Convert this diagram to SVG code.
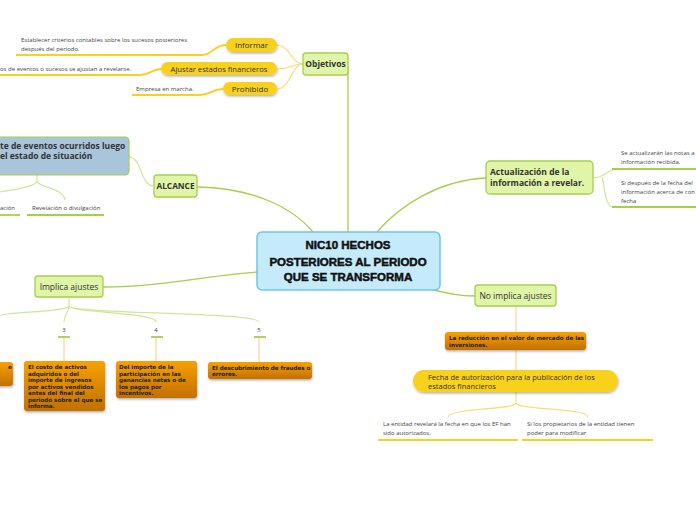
<svg xmlns="http://www.w3.org/2000/svg" width="696" height="520" viewBox="0 0 696 520">
<defs>
<linearGradient id="og" x1="0" y1="0" x2="0" y2="1"><stop offset="0" stop-color="#f9a000"/><stop offset="1" stop-color="#c27000"/></linearGradient>
<filter id="sh" x="-10%" y="-20%" width="120%" height="160%"><feDropShadow dx="0.5" dy="1.5" stdDeviation="1" flood-color="#000" flood-opacity="0.3"/></filter>
<style>
.g{fill:#e0f5a8;stroke:#a6cf4a;stroke-width:1.3}
.p{fill:#f7d11e}
.o{fill:url(#og)}
.t{font-family:"Open Sans","Noto Sans",sans-serif;fill:#333}
.b{font-weight:bold}
.lf{font-family:"Open Sans","Noto Sans",sans-serif;font-size:6px;fill:#444}
.ot{font-family:"DejaVu Sans",sans-serif;font-size:5.6px;font-weight:bold;fill:#222}
.cg{fill:none;stroke:#a6cf4a;stroke-width:1.3}
.cl{fill:none;stroke:#cfe69a;stroke-width:1.2}
.cy{fill:none;stroke:#f5e07a;stroke-width:1.2}
.uy{fill:none;stroke:#f7d11e;stroke-width:1.8}
.ug{fill:none;stroke:#a6cf4a;stroke-width:1.8}
.co{fill:none;stroke:#fdd79a;stroke-width:1.3}
</style>
</defs>
<rect width="696" height="520" fill="#fff"/>
<g id="connectors">
<path class="cg" d="M348,66 V232"/>
<path class="cy" d="M303,64 C292,64 290,46 277,45"/>
<path class="cy" d="M303,64 C292,64 290,69 277,69"/>
<path class="cy" d="M303,64 C292,64 290,89 277,89"/>
<path class="uy" d="M16,55 H202 C212,55 214,45 226,45"/>
<path class="uy" d="M0,75 H140 C150,75 152,69 161,69"/>
<path class="uy" d="M132,95 H200 C210,95 212,89 223,89"/>
<path class="cg" d="M197,187 C250,188 290,205 313,232"/>
<path class="cl" d="M154,186 C140,186 142,157 129,157"/>
<path class="cl" d="M37,175 V181 C37,187 64,188 65,200"/>
<path class="cl" d="M37,181 C37,187 10,190 0,192"/>
<path class="ug" d="M0,215 H20"/>
<path class="ug" d="M27,215 H104"/>
<path class="cg" d="M377,232 C400,205 440,180 486,178"/>
<path class="cl" d="M593,178 C605,178 606,170 616,169"/>
<path class="cl" d="M602,177 C605,185 604,203 612,207"/>
<path class="ug" d="M612,169 H696"/>
<path class="ug" d="M612,207 H696"/>
<path class="cg" d="M103,287 C160,287 210,275 257,272"/>
<path class="cl" d="M69,297 V306 C69,312 0,312 0,316"/>
<path class="cl" d="M69,306 C69,312 64,314 64,322"/>
<path class="cl" d="M69,306 C70,313 156,312 156,322"/>
<path class="cl" d="M69,306 C70,314 259,312 259,322"/>
<path class="ug" d="M58,337 H70"/>
<path class="ug" d="M151,337 H163"/>
<path class="ug" d="M254,337 H266"/>
<path class="co" d="M64,338 V361"/>
<path class="co" d="M156,338 V361"/>
<path class="co" d="M259,338 V362"/>
<path class="cg" d="M430,289 C450,294 460,296 475,296"/>
<path class="co" d="M516,306 V332"/>
<path class="co" d="M516,350 V370"/>
<path class="cy" d="M516,392 V403 C516,410 448,408 448,417"/>
<path class="cy" d="M516,403 C516,410 588,408 588,417"/>
<path class="uy" d="M378,440 H518"/>
<path class="uy" d="M522,440 H653"/>
</g>
<g id="center">
<rect x="257" y="232" width="183" height="58" rx="5" fill="#c5ebfb" stroke="#6ec6ee" stroke-width="1.5"/>
<text font-family="'Liberation Sans',sans-serif" font-weight="900" font-size="11.5" fill="#111" stroke="#111" stroke-width="0.5" text-anchor="middle" x="348"><tspan x="348" y="249">NIC10  HECHOS</tspan><tspan x="348" y="266">POSTERIORES AL PERIODO</tspan><tspan x="348" y="281">QUE SE TRANSFORMA</tspan></text>
</g>
<g id="objetivos">
<rect class="g" x="303" y="53" width="45" height="22" rx="3"/>
<text class="t b" font-size="8.5" x="325.5" y="67" text-anchor="middle">Objetivos</text>
</g>
<g id="informar">
<rect class="p" x="226" y="38" width="51" height="14" rx="7" filter="url(#sh)"/>
<text class="t" font-size="8" x="251.5" y="48" text-anchor="middle">Informar</text>
<text class="lf" x="21" y="42">Establecer criterios contables sobre los sucesos posteriores</text>
<text class="lf" x="21" y="51">después del periodo.</text>
</g>
<g id="ajustar">
<rect class="p" x="161" y="62" width="116" height="13" rx="6.5" filter="url(#sh)"/>
<text class="t" font-size="7.7" x="219" y="72" text-anchor="middle">Ajustar estados financieros</text>
<text class="lf" x="0" y="71">os de eventos o sucesos se ajustan a revelarse.</text>
</g>
<g id="prohibido">
<rect class="p" x="223" y="82" width="54" height="13" rx="6.5" filter="url(#sh)"/>
<text class="t" font-size="8" x="250" y="92" text-anchor="middle">Prohibido</text>
<text class="lf" x="136" y="91">Empresa en marcha.</text>
</g>
<g id="alcance">
<rect class="g" x="154" y="175" width="43" height="22" rx="3"/>
<text class="t b" font-size="8.3" x="175.5" y="189" text-anchor="middle">ALCANCE</text>
</g>
<g id="eventos">
<rect x="-10" y="137" width="139" height="38" rx="4" fill="#a9c5d9" stroke="#a6cf4a" stroke-width="1.2"/>
<text class="t b" font-size="8.5" x="0" y="149">te de eventos ocurridos luego</text>
<text class="t b" font-size="8.5" x="0" y="159">el estado de situación</text>
</g>
<g id="leaf-ación"><text class="lf" x="0" y="210">ación</text></g>
<g id="leaf-revelacion"><text class="lf" x="32" y="210">Revelación o divulgación</text></g>
<g id="actualizacion">
<rect class="g" x="486" y="161" width="107" height="33" rx="4"/>
<text class="t b" font-size="8.5" x="490" y="175">Actualización de la</text>
<text class="t b" font-size="8.5" x="490" y="186">información a revelar.</text>
</g>
<g id="leaf-notas">
<text class="lf" x="621" y="155">Se actualizarán las notas a</text>
<text class="lf" x="621" y="164">información recibida.</text>
</g>
<g id="leaf-si">
<text class="lf" x="621" y="185">Si después de la fecha del</text>
<text class="lf" x="621" y="194">información acerca de con</text>
<text class="lf" x="621" y="203">fecha</text>
</g>
<g id="implica">
<rect class="g" x="35" y="276" width="68" height="21" rx="3"/>
<text class="t" font-size="8.5" x="69" y="289.5" text-anchor="middle">Implica ajustes</text>
</g>
<g id="n3"><text class="lf" x="64" y="332" text-anchor="middle">3</text></g>
<g id="n4"><text class="lf" x="156" y="332" text-anchor="middle">4</text></g>
<g id="n5"><text class="lf" x="259" y="332" text-anchor="middle">5</text></g>
<g id="o-left">
<rect class="o" x="-10" y="362" width="23" height="24" rx="3" filter="url(#sh)"/>
<text class="ot" x="8" y="369">e</text>
</g>
<g id="o-costo">
<rect class="o" x="24" y="361" width="81" height="50" rx="3" filter="url(#sh)"/>
<text class="ot" x="28" y="369">El costo de activos</text>
<text class="ot" x="28" y="375.5">adquiridos o del</text>
<text class="ot" x="28" y="382">importe de ingresos</text>
<text class="ot" x="28" y="388.5">por activos vendidos</text>
<text class="ot" x="28" y="395">antes del final del</text>
<text class="ot" x="28" y="401.5">periodo sobre el que se</text>
<text class="ot" x="28" y="408">informa.</text>
</g>
<g id="o-importe">
<rect class="o" x="116" y="361" width="81" height="37" rx="3" filter="url(#sh)"/>
<text class="ot" x="119" y="369">Del importe de la</text>
<text class="ot" x="119" y="375.5">participación en las</text>
<text class="ot" x="119" y="382">ganancias netas o de</text>
<text class="ot" x="119" y="388.5">los pagos por</text>
<text class="ot" x="119" y="395">incentivos.</text>
</g>
<g id="o-fraude">
<rect class="o" x="208" y="362" width="104" height="17" rx="3" filter="url(#sh)"/>
<text class="ot" x="212" y="369.5">El descubrimiento de fraudes o</text>
<text class="ot" x="212" y="376">errores.</text>
</g>
<g id="no-implica">
<rect class="g" x="475" y="285" width="81" height="21" rx="3"/>
<text class="t" font-size="8.5" x="515.5" y="298.5" text-anchor="middle">No implica ajustes</text>
</g>
<g id="o-reduccion">
<rect class="o" x="445" y="332" width="141" height="18" rx="3" filter="url(#sh)"/>
<text class="ot" x="449" y="340">La reducción en el valor de mercado de las</text>
<text class="ot" x="449" y="346.5">inversiones.</text>
</g>
<g id="fecha">
<rect class="p" x="413" y="370" width="205" height="22" rx="11" filter="url(#sh)"/>
<text class="t" font-size="7.5" x="428" y="380">Fecha de autorización para la publicación de los</text>
<text class="t" font-size="7.5" x="428" y="389">estados financieros</text>
</g>
<g id="leaf-entidad">
<text class="lf" x="383" y="426">La entidad revelará la fecha en que los EF han</text>
<text class="lf" x="383" y="435">sido autorizados.</text>
</g>
<g id="leaf-propietarios">
<text class="lf" x="527" y="426">Si los propietarios de la entidad tienen</text>
<text class="lf" x="527" y="435">poder para modificar</text>
</g>
</svg>
